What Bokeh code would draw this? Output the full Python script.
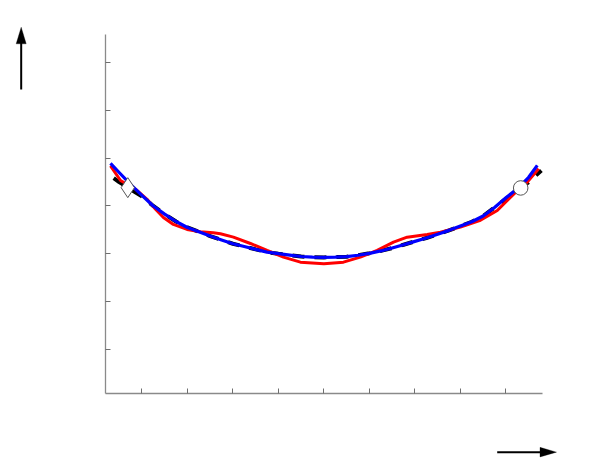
from bokeh.plotting import figure
from bokeh.models import FixedTicker, Range1d, Arrow, PolyAnnotation, LinearAxis
from bokeh.embed import file_html
from bokeh.resources import INLINE

# ---- data ----
x_ticks = [-4, -3, -2, -1, 0, 1, 2, 3, 4]
y_ticks = [1, 2, 3, 4, 5, 6, 7]
x_bounds = (-4.8, 4.8)
y_bounds = (0.08, 7.585)

blue_x = [-4.69, -4.5, -4.25, -4.0, -3.75, -3.5, -3.25, -3.0, -2.75, -2.5, -2.25, -2.0,
          -1.75, -1.5, -1.25, -1.0, -0.75, -0.5, -0.25, 0.0, 0.25, 0.5, 0.75, 1.0, 1.25,
          1.5, 1.75, 2.0, 2.25, 2.5, 2.75, 3.0, 3.25, 3.5, 3.75, 4.0, 4.25, 4.5, 4.69]
blue_y = [4.89, 4.70, 4.45, 4.22, 4.00, 3.83, 3.675, 3.55, 3.46, 3.37, 3.29, 3.21,
          3.153, 3.093, 3.034, 3.003, 2.973, 2.943, 2.93, 2.925, 2.93, 2.94, 2.97, 3.01, 3.06,
          3.12, 3.19, 3.26, 3.33, 3.41, 3.49, 3.58, 3.67, 3.79, 3.97, 4.17, 4.36, 4.60, 4.85]

black_x = [-4.62, -4.5, -4.25, -4.0, -3.75, -3.5, -3.25, -3.0, -2.75, -2.5, -2.25, -2.0,
           -1.75, -1.5, -1.25, -1.0, -0.75, -0.5, -0.25, 0.0, 0.25, 0.5, 0.75, 1.0, 1.25,
           1.5, 1.75, 2.0, 2.25, 2.5, 2.75, 3.0, 3.25, 3.5, 3.75, 4.0, 4.25, 4.5, 4.78]
black_y = [4.58, 4.50, 4.35, 4.20, 4.00, 3.83, 3.675, 3.55, 3.46, 3.37, 3.29, 3.21,
           3.153, 3.093, 3.034, 3.003, 2.973, 2.943, 2.93, 2.925, 2.93, 2.94, 2.97, 3.01, 3.06,
           3.12, 3.19, 3.26, 3.33, 3.41, 3.49, 3.58, 3.67, 3.79, 3.97, 4.15, 4.32, 4.50, 4.74]

red_x = [-4.69, -4.47, -4.14, -3.886, -3.70, -3.527, -3.308, -3.007, -2.714, -2.43, -2.275,
         -1.989, -1.615, -1.248, -0.89, -0.516, 0.0, 0.43, 0.80, 1.17, 1.53, 1.83, 2.27,
         2.56, 3.0, 3.44, 3.81, 4.03, 4.25, 4.47, 4.72]
red_y = [4.837, 4.533, 4.35, 4.14, 3.93, 3.76, 3.614, 3.509, 3.46, 3.44, 3.42,
         3.348, 3.216, 3.07, 2.93, 2.825, 2.79, 2.825, 2.93, 3.07, 3.243, 3.348, 3.404,
         3.452, 3.557, 3.70, 3.906, 4.115, 4.32, 4.50, 4.78]

diamond_pt = (-4.31, 4.383)
circle_pt = (4.325, 4.377)

# ---- figure: frame fills the canvas, axes are fixed inside it ----
W, H = 581, 459
PX_X, PX_Y = 45.5, 47.83          # pixels per data unit
x0 = x_bounds[0] - 105 / PX_X
y1 = y_bounds[1] + 34 / PX_Y
p = figure(width=W, height=H, output_backend="svg", toolbar_location=None,
           x_range=Range1d(x0, x0 + W / PX_X), y_range=Range1d(y1 - H / PX_Y, y1),
           x_axis_type=None, y_axis_type=None, min_border=0)
p.outline_line_color = None
p.grid.visible = False
p.background_fill_color = "white"
p.border_fill_color = "white"

xaxis = LinearAxis(fixed_location=y_bounds[0], bounds=x_bounds,
                   ticker=FixedTicker(ticks=x_ticks))
yaxis = LinearAxis(fixed_location=x_bounds[0], bounds=y_bounds,
                   ticker=FixedTicker(ticks=y_ticks))
for ax, ticks in ((xaxis, x_ticks), (yaxis, y_ticks)):
    ax.major_label_overrides = {t: "" for t in ticks}
    ax.axis_line_color = "#8a8a8a"
    ax.axis_line_width = 1.3
    ax.major_tick_line_color = "#6e6e6e"
    ax.major_tick_in = 5
    ax.major_tick_out = 0
    ax.minor_tick_line_color = None
    ax.major_label_standoff = 0
p.add_layout(xaxis, "below")
p.add_layout(yaxis, "left")

p.line(black_x, black_y, line_color="black", line_width=4, line_dash="12 10")
p.line(red_x, red_y, line_color="#ff0000", line_width=3)
p.line(blue_x, blue_y, line_color="#0000ff", line_width=3.2)

p.scatter([diamond_pt[0]], [diamond_pt[1]], marker="diamond", size=20,
          fill_color="white", line_color="#555555", line_width=1)
p.scatter([circle_pt[0]], [circle_pt[1]], marker="circle", size=14.5,
          fill_color="white", line_color="#555555", line_width=1)

# ---- axis direction arrows ----
ax_x = -6.653
p.add_layout(Arrow(end=None, x_start=ax_x, y_start=6.435, x_end=ax_x, y_end=7.45,
                   line_width=2, line_color="black"))
p.add_layout(PolyAnnotation(xs=[ax_x - 0.11, ax_x, ax_x + 0.11],
                            ys=[7.39, 7.738, 7.39],
                            fill_color="black", fill_alpha=1, line_color="black", line_width=1))
ay_y = -1.147
p.add_layout(Arrow(end=None, x_start=3.809, y_start=ay_y, x_end=4.8, y_end=ay_y,
                   line_width=2, line_color="black"))
p.add_layout(PolyAnnotation(xs=[4.75, 5.112, 4.75],
                            ys=[ay_y + 0.1, ay_y, ay_y - 0.1],
                            fill_color="black", fill_alpha=1, line_color="black", line_width=1))

open("out.html", "w").write(file_html(p, INLINE))
